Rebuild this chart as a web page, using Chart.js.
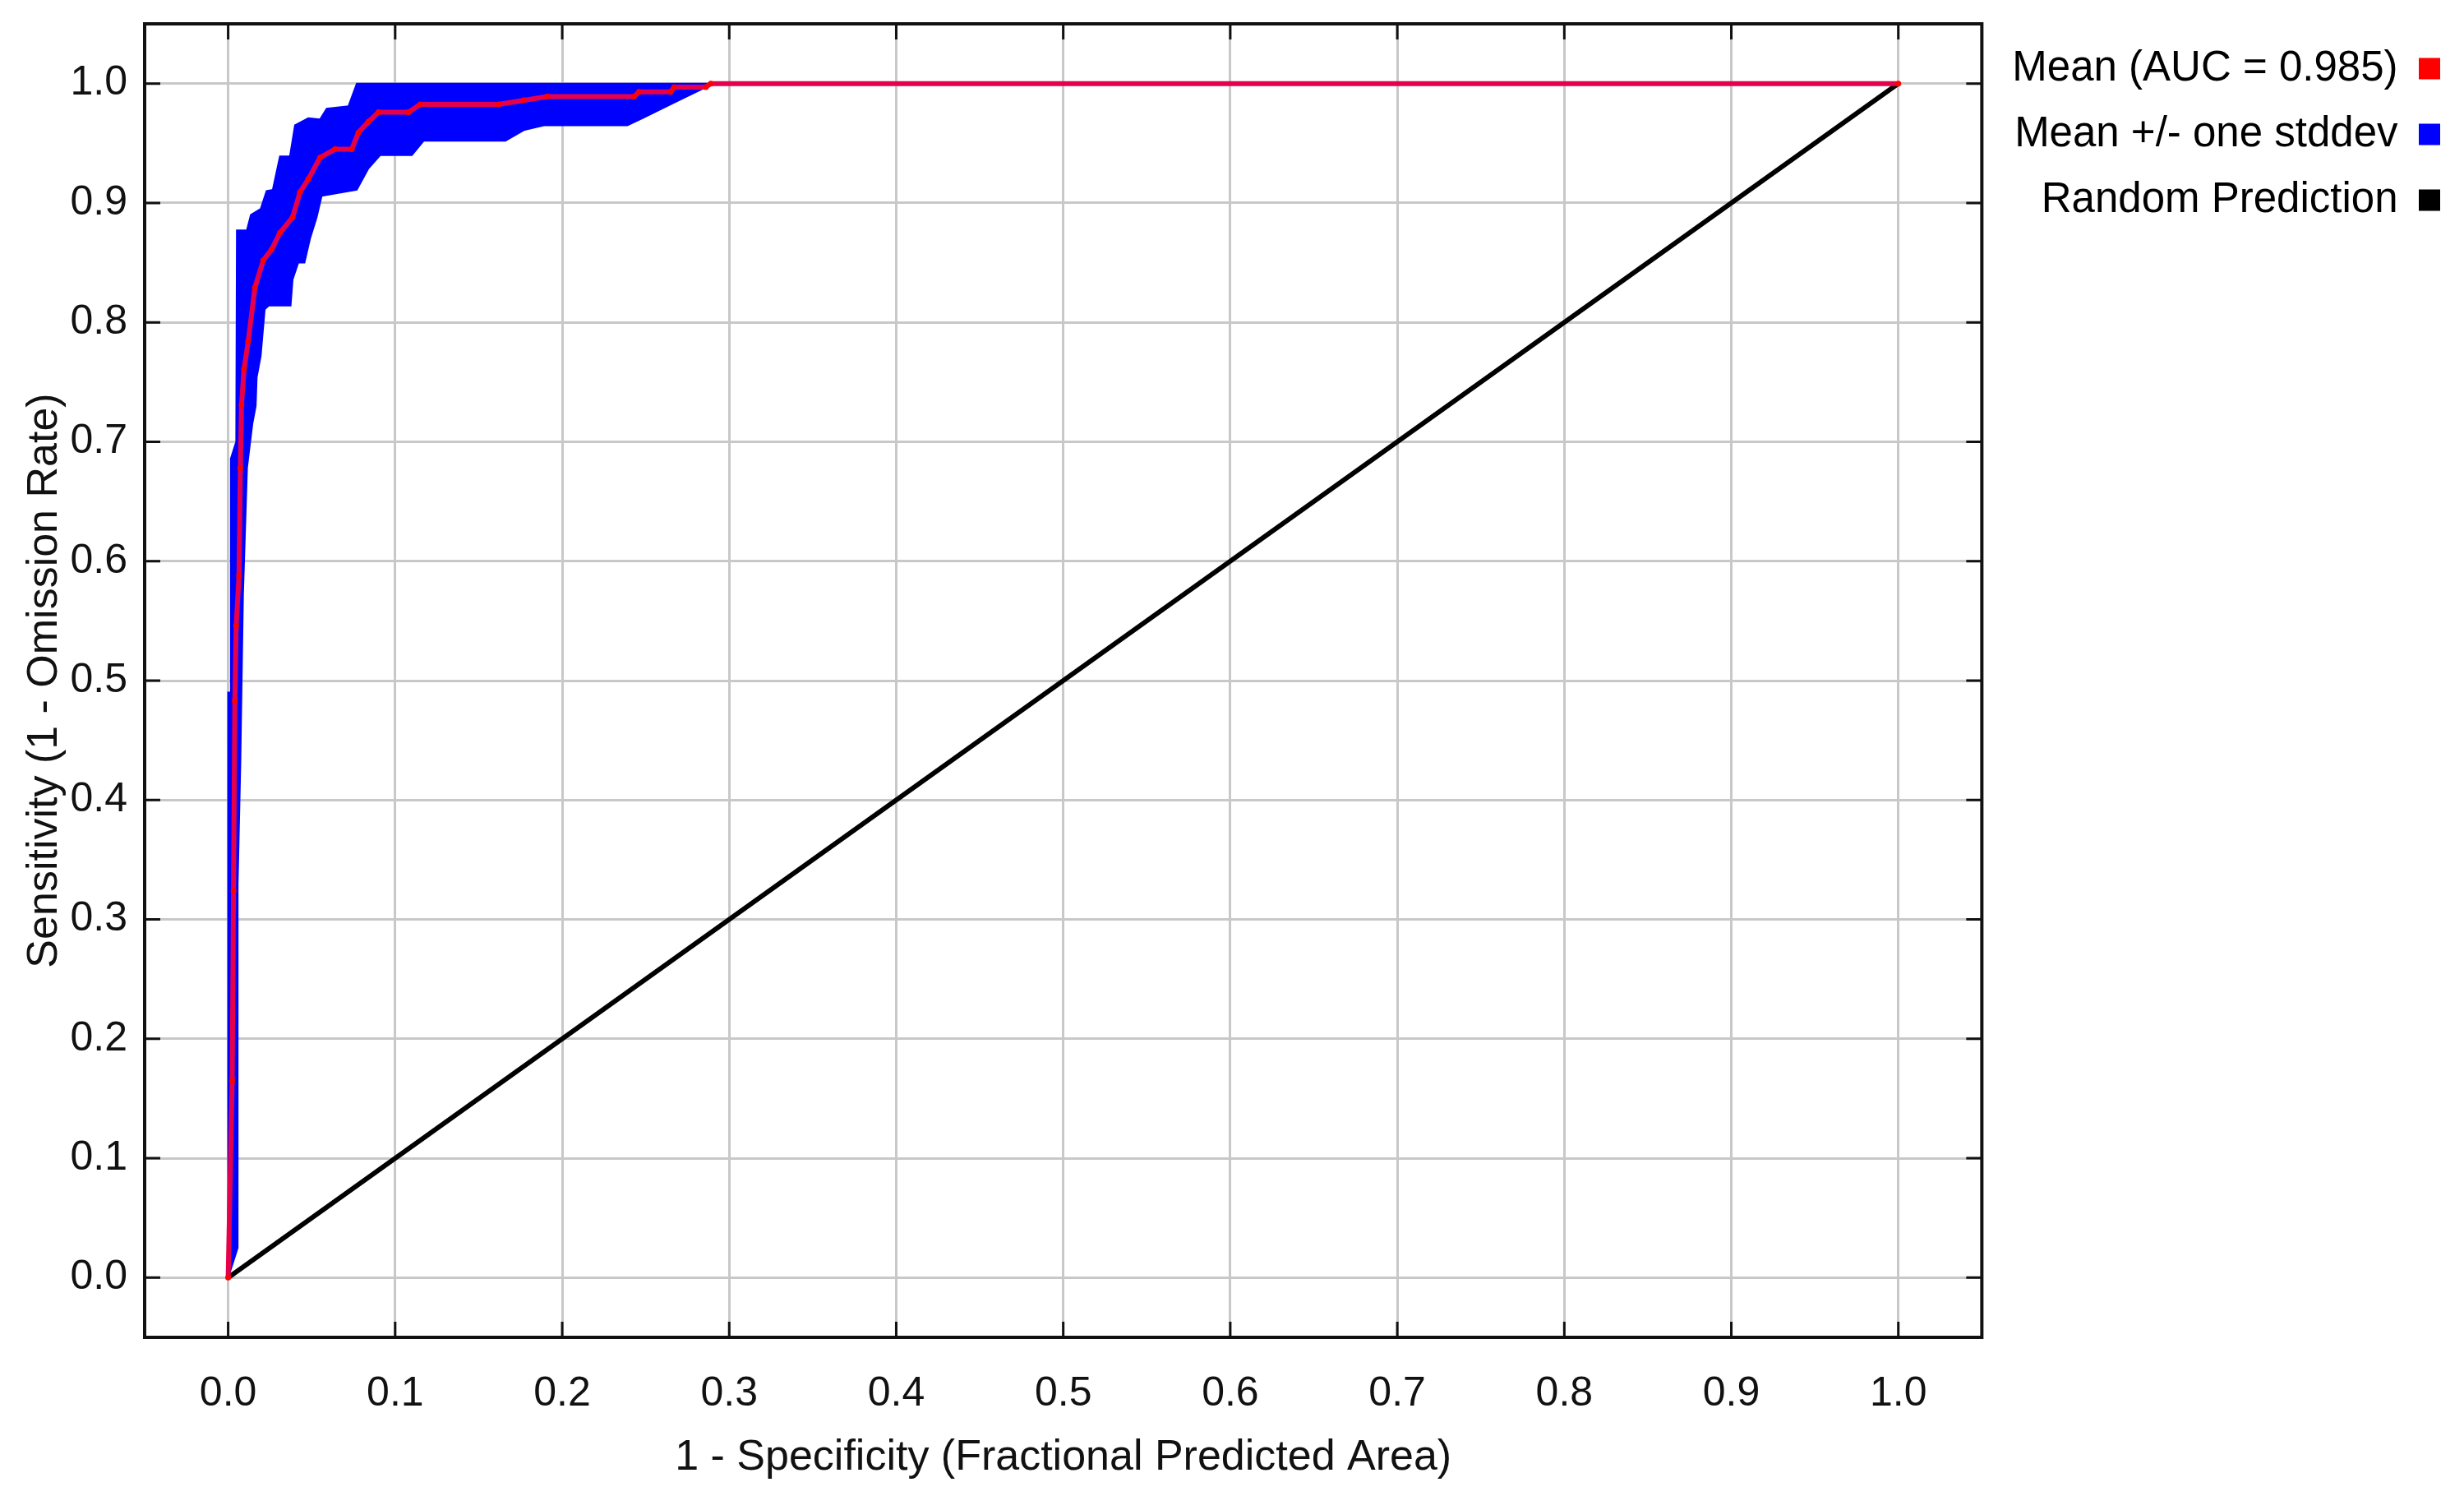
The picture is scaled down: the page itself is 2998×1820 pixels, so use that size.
<!DOCTYPE html>
<html>
<head>
<meta charset="utf-8">
<script src="https://cdn.jsdelivr.net/npm/chart.js@4.4.1/dist/chart.umd.min.js"></script>
<style>
  html, body { margin: 0; padding: 0; background: #fff; }
  #graficoRoc { display: block; }
</style>
</head>
<body>
<canvas id="graficoRoc" width="2998" height="1820"></canvas>
<script>
// Marcas dos dois eixos
const marcas = [0, 0.1, 0.2, 0.3, 0.4, 0.5, 0.6, 0.7, 0.8, 0.9, 1.0];

// Curva média (vermelha)
const mediaX = [0, 0.0024, 0.0032, 0.004, 0.0048, 0.0065, 0.0073, 0.008, 0.0095, 0.012, 0.016, 0.021, 0.026, 0.031, 0.0386, 0.043, 0.048, 0.055, 0.064, 0.074, 0.078, 0.084, 0.09, 0.108, 0.115, 0.162, 0.177, 0.191, 0.243, 0.246, 0.265, 0.267, 0.286, 0.289, 1.0];
const mediaY = [0, 0.165, 0.324, 0.483, 0.546, 0.588, 0.678, 0.731, 0.761, 0.784, 0.829, 0.852, 0.861, 0.875, 0.888, 0.909, 0.92, 0.938, 0.945, 0.945, 0.959, 0.968, 0.976, 0.976, 0.9825, 0.9825, 0.986, 0.989, 0.989, 0.993, 0.993, 0.997, 0.997, 1.0, 1.0];

// Média + um desvio padrão (borda superior da faixa azul)
const superiorX = [0, 0, 0.0016, 0.0016, 0.0048, 0.0052, 0.0112, 0.0136, 0.0195, 0.023, 0.0267, 0.031, 0.037, 0.040, 0.048, 0.055, 0.059, 0.072, 0.077, 1.0];
const superiorY = [0, 0.49, 0.49, 0.686, 0.70, 0.877, 0.877, 0.890, 0.895, 0.910, 0.911, 0.939, 0.939, 0.965, 0.971, 0.970, 0.979, 0.981, 1.0, 1.0];

// Média - um desvio padrão (borda inferior da faixa azul)
const inferiorX = [0, 0.0057, 0.0057, 0.0073, 0.0089, 0.0113, 0.0145, 0.0165, 0.0171, 0.0195, 0.0219, 0.0243, 0.0374, 0.0386, 0.042, 0.0457, 0.049, 0.053, 0.056, 0.077, 0.084, 0.091, 0.110, 0.117, 0.166, 0.177, 0.189, 0.239, 0.248, 0.267, 0.286, 0.291, 1.0];
const inferiorY = [0, 0.025, 0.329, 0.43, 0.572, 0.678, 0.715, 0.73, 0.754, 0.772, 0.811, 0.814, 0.814, 0.836, 0.850, 0.850, 0.870, 0.888, 0.906, 0.911, 0.929, 0.940, 0.940, 0.952, 0.952, 0.961, 0.965, 0.965, 0.971, 0.984, 0.997, 1.0, 1.0];

// Predição aleatória
const aleatorioX = [0, 1];
const aleatorioY = [0, 1];

const legendaTextos = ['Mean (AUC = 0.985)', 'Mean +/- one stddev', 'Random Prediction'];
const legendaCores = ['#ff0000', '#0000ff', '#000000'];

const fonte = 'Liberation Sans, Arial, Helvetica, sans-serif';
Chart.defaults.font.family = fonte;
Chart.defaults.color = '#111';

function pontos(xs, ys) {
  return xs.map((x, i) => ({ x: x, y: ys[i] }));
}

// Tira a folga que o Chart.js reserva para os rótulos das pontas
function semFolga(s) {
  s.paddingTop = 0;
  s.paddingBottom = 0;
  s.paddingLeft = 0;
  s.paddingRight = 0;
}

// Moldura preta e marcas para dentro nos quatro lados
const moldura = {
  id: 'moldura',
  afterDatasetsDraw(chart) {
    const { ctx, chartArea: a, scales: { x, y } } = chart;
    const tam = 19;
    ctx.save();
    ctx.strokeStyle = '#111';
    ctx.lineWidth = 3;
    ctx.beginPath();
    marcas.forEach(v => {
      const px = x.getPixelForValue(v);
      const py = y.getPixelForValue(v);
      ctx.moveTo(px, a.bottom); ctx.lineTo(px, a.bottom - tam);
      ctx.moveTo(px, a.top); ctx.lineTo(px, a.top + tam);
      ctx.moveTo(a.left, py); ctx.lineTo(a.left + tam, py);
      ctx.moveTo(a.right, py); ctx.lineTo(a.right - tam, py);
    });
    ctx.stroke();
    ctx.lineWidth = 4;
    ctx.strokeRect(a.left, a.top, a.right - a.left, a.bottom - a.top);
    ctx.restore();
  }
};

const ctx = document.getElementById('graficoRoc').getContext('2d');
const graficoRoc = new Chart(ctx, {
  type: 'line',
  data: {
    datasets: [
      {
        label: legendaTextos[0],
        data: pontos(mediaX, mediaY),
        borderColor: '#e6004c',
        backgroundColor: '#ff0000',
        borderWidth: 6,
        pointRadius: 3.5,
        pointBackgroundColor: '#ff0000',
        pointBorderWidth: 0,
        fill: false,
        tension: 0
      },
      {
        label: legendaTextos[1],
        data: pontos(superiorX, superiorY),
        borderColor: '#0000ff',
        backgroundColor: '#0000ff',
        borderWidth: 2,
        pointRadius: 0,
        fill: '+1',
        tension: 0
      },
      {
        label: 'inferior',
        data: pontos(inferiorX, inferiorY),
        borderColor: '#0000ff',
        backgroundColor: '#0000ff',
        borderWidth: 2,
        pointRadius: 0,
        fill: false,
        tension: 0
      },
      {
        label: legendaTextos[2],
        data: pontos(aleatorioX, aleatorioY),
        borderColor: '#000000',
        backgroundColor: '#000000',
        borderWidth: 6,
        pointRadius: 0,
        fill: false,
        tension: 0
      }
    ]
  },
  options: {
    responsive: false,
    animation: false,
    devicePixelRatio: 1,
    layout: { padding: { top: 29, left: 0, right: 0, bottom: 0 } },
    scales: {
      x: {
        type: 'linear',
        min: -0.05,
        max: 1.05,
        afterBuildTicks: s => { s.ticks = marcas.map(v => ({ value: v })); },
        afterFit: s => { s.height = 193; semFolga(s); },
        grid: { color: '#c8c8c8', lineWidth: 3, drawTicks: false },
        border: { display: false },
        ticks: {
          padding: 39,
          font: { size: 50 },
          color: '#111',
          callback: v => Number(v).toFixed(1)
        },
        title: {
          display: true,
          text: '1 - Specificity (Fractional Predicted Area)',
          font: { size: 52 },
          color: '#111',
          padding: { top: 0, bottom: 15 }
        }
      },
      y: {
        type: 'linear',
        min: -0.05,
        max: 1.05,
        afterBuildTicks: s => { s.ticks = marcas.map(v => ({ value: v })); },
        afterFit: s => { s.width = 176; semFolga(s); },
        grid: { color: '#c8c8c8', lineWidth: 3, drawTicks: false },
        border: { display: false },
        ticks: {
          padding: 21,
          font: { size: 50 },
          color: '#111',
          callback: v => Number(v).toFixed(1)
        },
        title: {
          display: true,
          text: 'Sensitivity (1 - Omission Rate)',
          font: { size: 52 },
          color: '#111',
          padding: { top: 23, bottom: 0 }
        }
      },
      // eixo vazio só para afastar a legenda da moldura
      folga: {
        type: 'linear',
        position: 'right',
        min: 0,
        max: 1,
        grid: { display: false },
        ticks: { display: false },
        border: { display: false },
        afterFit: s => { s.width = 27; semFolga(s); }
      }
    },
    plugins: {
      tooltip: { enabled: false },
      legend: {
        position: 'right',
        align: 'start',
        rtl: true,
        textDirection: 'ltr',
        maxWidth: 700,
        labels: {
          font: { size: 51 },
          color: '#111',
          boxWidth: 26,
          boxHeight: 26,
          padding: 29,
          generateLabels: () => legendaTextos.map((texto, i) => ({
            text: texto,
            fillStyle: legendaCores[i],
            strokeStyle: legendaCores[i],
            lineWidth: 0,
            hidden: false,
            datasetIndex: i
          }))
        }
      }
    }
  },
  plugins: [moldura]
});
</script>
</body>
</html>
